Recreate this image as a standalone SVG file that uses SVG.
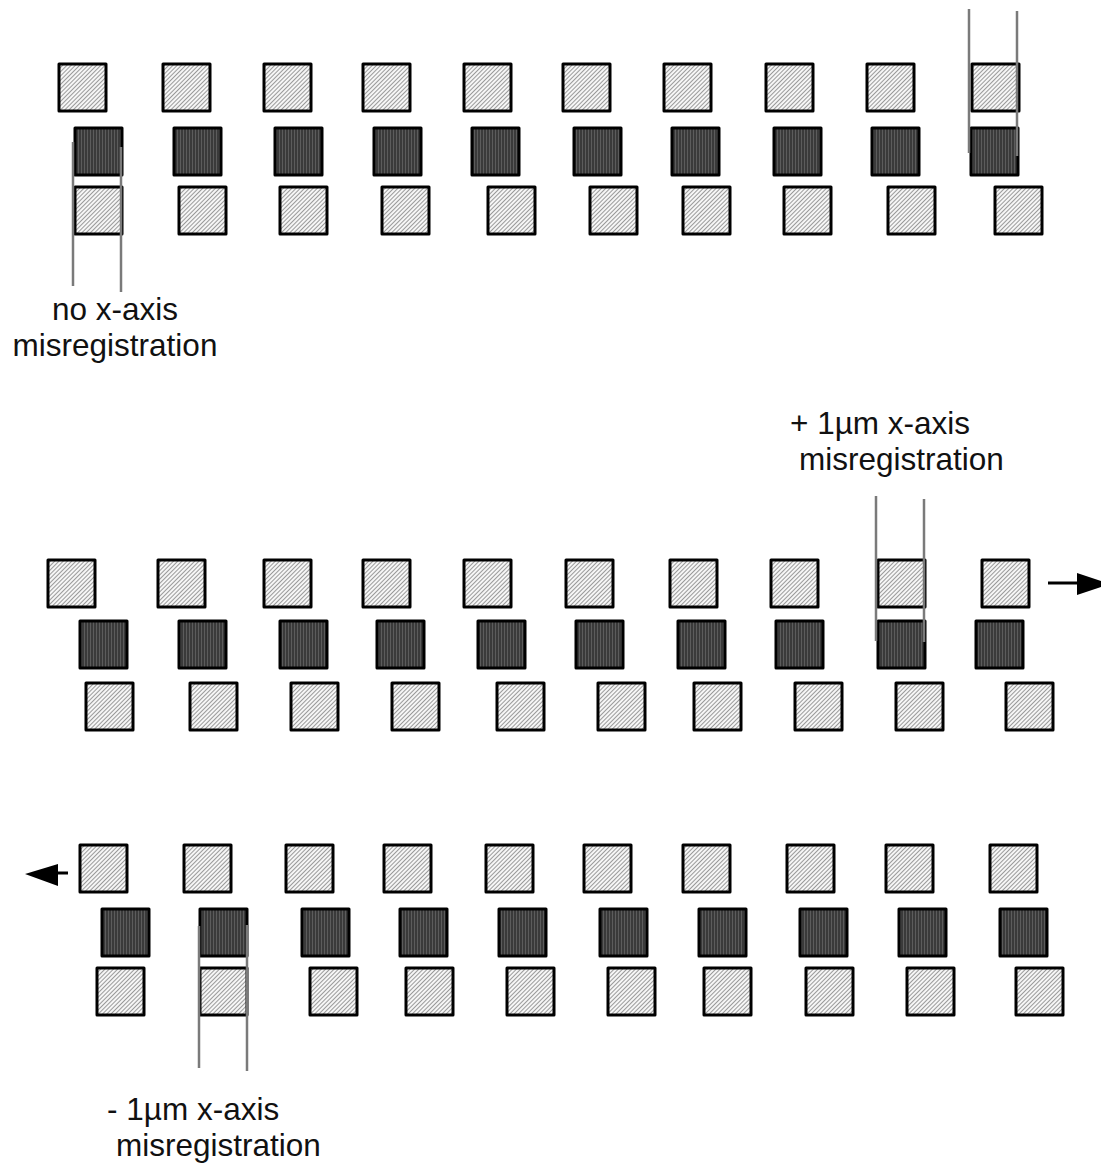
<svg xmlns="http://www.w3.org/2000/svg" width="1101" height="1164" viewBox="0 0 1101 1164">
<defs>
<pattern id="hatch" width="3" height="3" patternUnits="userSpaceOnUse" patternTransform="rotate(45)"><rect width="3" height="3" fill="#f6f6f6"/><rect width="1" height="3" fill="#9a9a9a"/></pattern>
<pattern id="vert" width="3" height="3" patternUnits="userSpaceOnUse"><rect width="3" height="3" fill="#3a3a3a"/><rect width="1" height="3" fill="#5c5c5c"/></pattern>
</defs>
<style>
.lt{fill:url(#hatch);stroke:#000;stroke-width:3;stroke-linejoin:round}
.dk{fill:url(#vert);stroke:#000;stroke-width:3;stroke-linejoin:round}
.gl{stroke:#7a7a7a;stroke-width:2.5;fill:none}
.ar{stroke:#000;stroke-width:3;fill:none}
.ah{fill:#000}
text{font-family:"Liberation Sans",Arial,sans-serif;font-size:31.5px;fill:#111}
</style>
<rect width="1101" height="1164" fill="#fff"/>
<!-- group 1 -->
<g id="set1">
<g id="s1a1"><rect class="lt" x="59" y="64" width="47" height="47"/></g>
<g id="s1a2"><rect class="lt" x="163" y="64" width="47" height="47"/></g>
<g id="s1a3"><rect class="lt" x="264" y="64" width="47" height="47"/></g>
<g id="s1a4"><rect class="lt" x="363" y="64" width="47" height="47"/></g>
<g id="s1a5"><rect class="lt" x="464" y="64" width="47" height="47"/></g>
<g id="s1a6"><rect class="lt" x="563" y="64" width="47" height="47"/></g>
<g id="s1a7"><rect class="lt" x="664" y="64" width="47" height="47"/></g>
<g id="s1a8"><rect class="lt" x="766" y="64" width="47" height="47"/></g>
<g id="s1a9"><rect class="lt" x="867" y="64" width="47" height="47"/></g>
<g id="s1a10"><rect class="lt" x="972" y="64" width="47" height="47"/></g>
<g id="s1b1"><rect class="dk" x="75" y="128" width="47" height="47"/></g>
<g id="s1b2"><rect class="dk" x="174" y="128" width="47" height="47"/></g>
<g id="s1b3"><rect class="dk" x="275" y="128" width="47" height="47"/></g>
<g id="s1b4"><rect class="dk" x="374" y="128" width="47" height="47"/></g>
<g id="s1b5"><rect class="dk" x="472" y="128" width="47" height="47"/></g>
<g id="s1b6"><rect class="dk" x="574" y="128" width="47" height="47"/></g>
<g id="s1b7"><rect class="dk" x="672" y="128" width="47" height="47"/></g>
<g id="s1b8"><rect class="dk" x="774" y="128" width="47" height="47"/></g>
<g id="s1b9"><rect class="dk" x="872" y="128" width="47" height="47"/></g>
<g id="s1b10"><rect class="dk" x="971" y="128" width="47" height="47"/></g>
<g id="s1c1"><rect class="lt" x="75" y="187" width="47" height="47"/></g>
<g id="s1c2"><rect class="lt" x="179" y="187" width="47" height="47"/></g>
<g id="s1c3"><rect class="lt" x="280" y="187" width="47" height="47"/></g>
<g id="s1c4"><rect class="lt" x="382" y="187" width="47" height="47"/></g>
<g id="s1c5"><rect class="lt" x="488" y="187" width="47" height="47"/></g>
<g id="s1c6"><rect class="lt" x="590" y="187" width="47" height="47"/></g>
<g id="s1c7"><rect class="lt" x="683" y="187" width="47" height="47"/></g>
<g id="s1c8"><rect class="lt" x="784" y="187" width="47" height="47"/></g>
<g id="s1c9"><rect class="lt" x="888" y="187" width="47" height="47"/></g>
<g id="s1c10"><rect class="lt" x="995" y="187" width="47" height="47"/></g>
</g>
<!-- group 2 -->
<g id="set2">
<g id="s2a1"><rect class="lt" x="48" y="560" width="47" height="47"/></g>
<g id="s2a2"><rect class="lt" x="158" y="560" width="47" height="47"/></g>
<g id="s2a3"><rect class="lt" x="264" y="560" width="47" height="47"/></g>
<g id="s2a4"><rect class="lt" x="363" y="560" width="47" height="47"/></g>
<g id="s2a5"><rect class="lt" x="464" y="560" width="47" height="47"/></g>
<g id="s2a6"><rect class="lt" x="566" y="560" width="47" height="47"/></g>
<g id="s2a7"><rect class="lt" x="670" y="560" width="47" height="47"/></g>
<g id="s2a8"><rect class="lt" x="771" y="560" width="47" height="47"/></g>
<g id="s2a9"><rect class="lt" x="878" y="560" width="47" height="47"/></g>
<g id="s2a10"><rect class="lt" x="982" y="560" width="47" height="47"/></g>
<g id="s2b1"><rect class="dk" x="80" y="621" width="47" height="47"/></g>
<g id="s2b2"><rect class="dk" x="179" y="621" width="47" height="47"/></g>
<g id="s2b3"><rect class="dk" x="280" y="621" width="47" height="47"/></g>
<g id="s2b4"><rect class="dk" x="377" y="621" width="47" height="47"/></g>
<g id="s2b5"><rect class="dk" x="478" y="621" width="47" height="47"/></g>
<g id="s2b6"><rect class="dk" x="576" y="621" width="47" height="47"/></g>
<g id="s2b7"><rect class="dk" x="678" y="621" width="47" height="47"/></g>
<g id="s2b8"><rect class="dk" x="776" y="621" width="47" height="47"/></g>
<g id="s2b9"><rect class="dk" x="878" y="621" width="47" height="47"/></g>
<g id="s2b10"><rect class="dk" x="976" y="621" width="47" height="47"/></g>
<g id="s2c1"><rect class="lt" x="86" y="683" width="47" height="47"/></g>
<g id="s2c2"><rect class="lt" x="190" y="683" width="47" height="47"/></g>
<g id="s2c3"><rect class="lt" x="291" y="683" width="47" height="47"/></g>
<g id="s2c4"><rect class="lt" x="392" y="683" width="47" height="47"/></g>
<g id="s2c5"><rect class="lt" x="497" y="683" width="47" height="47"/></g>
<g id="s2c6"><rect class="lt" x="598" y="683" width="47" height="47"/></g>
<g id="s2c7"><rect class="lt" x="694" y="683" width="47" height="47"/></g>
<g id="s2c8"><rect class="lt" x="795" y="683" width="47" height="47"/></g>
<g id="s2c9"><rect class="lt" x="896" y="683" width="47" height="47"/></g>
<g id="s2c10"><rect class="lt" x="1006" y="683" width="47" height="47"/></g>
</g>
<!-- group 3 -->
<g id="set3">
<g id="s3a1"><rect class="lt" x="80" y="845" width="47" height="47"/></g>
<g id="s3a2"><rect class="lt" x="184" y="845" width="47" height="47"/></g>
<g id="s3a3"><rect class="lt" x="286" y="845" width="47" height="47"/></g>
<g id="s3a4"><rect class="lt" x="384" y="845" width="47" height="47"/></g>
<g id="s3a5"><rect class="lt" x="486" y="845" width="47" height="47"/></g>
<g id="s3a6"><rect class="lt" x="584" y="845" width="47" height="47"/></g>
<g id="s3a7"><rect class="lt" x="683" y="845" width="47" height="47"/></g>
<g id="s3a8"><rect class="lt" x="787" y="845" width="47" height="47"/></g>
<g id="s3a9"><rect class="lt" x="886" y="845" width="47" height="47"/></g>
<g id="s3a10"><rect class="lt" x="990" y="845" width="47" height="47"/></g>
<g id="s3b1"><rect class="dk" x="102" y="909" width="47" height="47"/></g>
<g id="s3b2"><rect class="dk" x="200" y="909" width="47" height="47"/></g>
<g id="s3b3"><rect class="dk" x="302" y="909" width="47" height="47"/></g>
<g id="s3b4"><rect class="dk" x="400" y="909" width="47" height="47"/></g>
<g id="s3b5"><rect class="dk" x="499" y="909" width="47" height="47"/></g>
<g id="s3b6"><rect class="dk" x="600" y="909" width="47" height="47"/></g>
<g id="s3b7"><rect class="dk" x="699" y="909" width="47" height="47"/></g>
<g id="s3b8"><rect class="dk" x="800" y="909" width="47" height="47"/></g>
<g id="s3b9"><rect class="dk" x="899" y="909" width="47" height="47"/></g>
<g id="s3b10"><rect class="dk" x="1000" y="909" width="47" height="47"/></g>
<g id="s3c1"><rect class="lt" x="97" y="968" width="47" height="47"/></g>
<g id="s3c2"><rect class="lt" x="200" y="968" width="47" height="47"/></g>
<g id="s3c3"><rect class="lt" x="310" y="968" width="47" height="47"/></g>
<g id="s3c4"><rect class="lt" x="406" y="968" width="47" height="47"/></g>
<g id="s3c5"><rect class="lt" x="507" y="968" width="47" height="47"/></g>
<g id="s3c6"><rect class="lt" x="608" y="968" width="47" height="47"/></g>
<g id="s3c7"><rect class="lt" x="704" y="968" width="47" height="47"/></g>
<g id="s3c8"><rect class="lt" x="806" y="968" width="47" height="47"/></g>
<g id="s3c9"><rect class="lt" x="907" y="968" width="47" height="47"/></g>
<g id="s3c10"><rect class="lt" x="1016" y="968" width="47" height="47"/></g>
</g>
<!-- connectors: guide lines and arrows -->
<g id="connectors">
<line class="gl" x1="73" y1="142" x2="73" y2="286"/>
<line class="gl" x1="121" y1="147" x2="121" y2="292"/>
<line class="gl" x1="969" y1="9" x2="969" y2="153"/>
<line class="gl" x1="1017" y1="11" x2="1017" y2="156"/>
<line class="gl" x1="876" y1="496" x2="876" y2="641"/>
<line class="gl" x1="924" y1="499" x2="924" y2="642"/>
<line class="gl" x1="199" y1="926" x2="199" y2="1068"/>
<line class="gl" x1="247" y1="925" x2="247" y2="1071"/>
<line class="ar" x1="1048" y1="583" x2="1080" y2="583"/>
<polygon class="ah" points="1077,573 1110,584 1077,595"/>
<line class="ar" x1="68" y1="873" x2="50" y2="873"/>
<polygon class="ah" points="25,874 58,864 58,886"/>
</g>
<g id="labels">
<text x="115" y="320" text-anchor="middle">no x-axis</text>
<text x="115" y="356" text-anchor="middle">misregistration</text>
<text x="790" y="434">+ 1µm x-axis</text>
<text x="799" y="470">misregistration</text>
<text x="107" y="1120">- 1µm x-axis</text>
<text x="116" y="1156">misregistration</text>
</g>
</svg>
